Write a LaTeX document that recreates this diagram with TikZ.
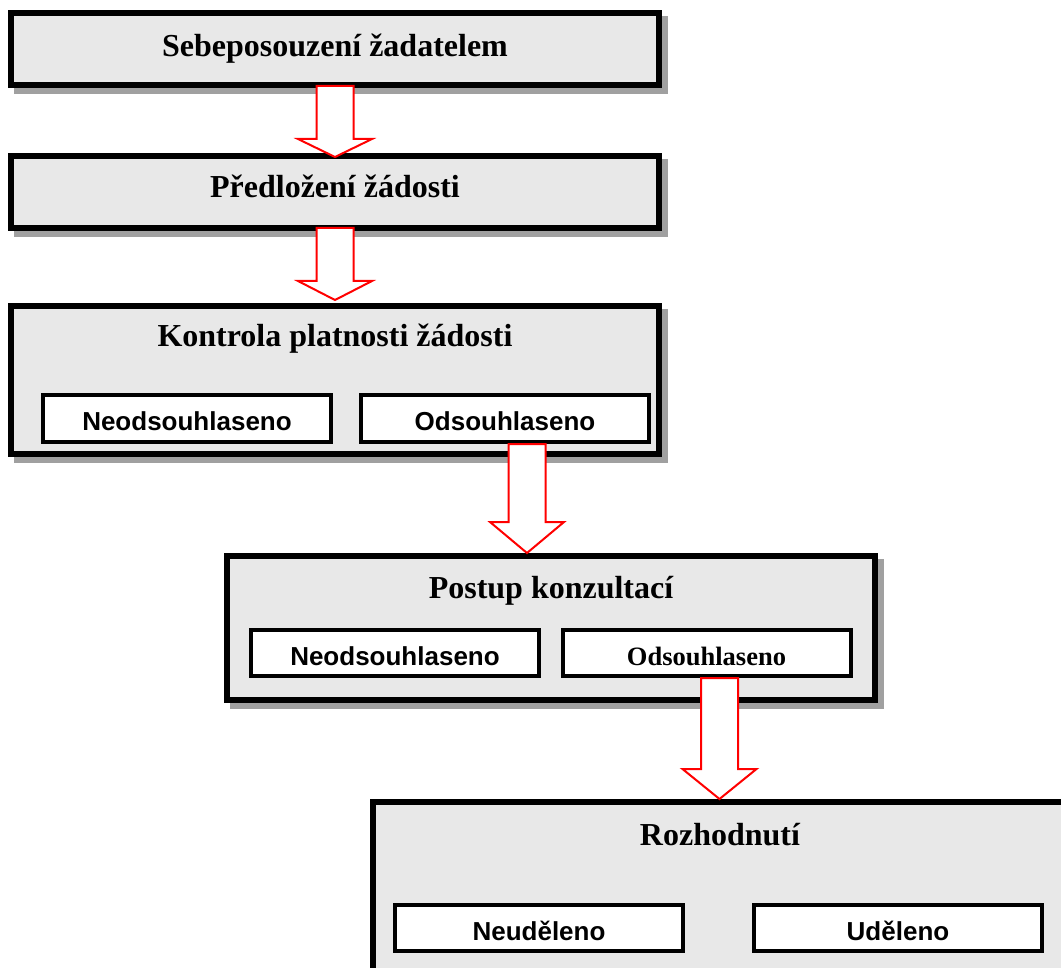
\documentclass[tikz,border=0pt]{standalone}
\usepackage{fontspec}
\setmainfont{Liberation Serif}
\newfontfamily\sansfam{Liberation Sans}
\usetikzlibrary{calc}

\definecolor{boxgray}{RGB}{232,232,232}
\definecolor{shadowgray}{RGB}{160,160,160}

\newcommand\titlefont{\fontsize{32}{38}\selectfont\bfseries}
\newcommand\sublabel{\sansfam\fontsize{26}{31}\selectfont\bfseries}
\newcommand\subserif{\fontsize{26.5}{31}\selectfont\bfseries}

\pgfdeclarelayer{bg}
\pgfsetlayers{bg,main}

% gray drop shadow behind a box node
\newcommand\boxshadow[1]{%
  \fill[shadowgray] ([shift={(6,6)}]#1.north west) rectangle ([shift={(6,6)}]#1.south east);}

% hollow block arrow: #1 start point, #2 tip point, #3 head length
\newcommand\blockarrow[3]{%
  \draw[arrowline] let \p1=(#1), \p2=(#2) in
    (\x1-18.5pt,\y1) -- (\x1+18.5pt,\y1) -- (\x1+18.5pt,\y2+#3) -- (\x1+37pt,\y2+#3)
    -- (\x1,\y2) -- (\x1-37pt,\y2+#3) -- (\x1-18.5pt,\y2+#3) -- cycle;}

\tikzset{
  mainbox/.style={draw=black, fill=boxgray, line width=6pt, minimum width=648pt,
    inner sep=0pt},
  subbox/.style={draw=black, fill=white, line width=4pt, minimum width=288pt,
    minimum height=46pt, inner sep=0pt, text height=24pt, text depth=0pt, font=\sublabel},
  titletext/.style={anchor=base, inner sep=0pt, font=\titlefont},
  arrowline/.style={draw=red, fill=white, line width=2pt, line join=miter},
}

\begin{document}
\begin{tikzpicture}[x=1pt, y=-1pt]
\useasboundingbox (0,0) rectangle (1061,968);
\clip (0,0) rectangle (1061,968);

% main stages
\node[mainbox, minimum height=72pt] (b1) at (335,49) {};
\node[mainbox, minimum height=72pt] (b2) at (335,192) {};
\node[mainbox, minimum height=148pt] (b3) at (335,380) {};
\node[mainbox, minimum height=144pt] (b4) at (551,628) {};
\node[mainbox, minimum width=694pt, minimum height=214pt] (b5) at (720,909) {};

\begin{pgfonlayer}{bg}
  \boxshadow{b1}\boxshadow{b2}\boxshadow{b3}\boxshadow{b4}\boxshadow{b5}
\end{pgfonlayer}

% stage titles
\node[titletext] (t1) at (335,57) {Sebeposouzení žadatelem};
\node[titletext] (t2) at (335,198) {Předložení žádosti};
\node[titletext] (t3) at (335,347) {Kontrola platnosti žádosti};
\node[titletext] (t4) at (551,598) {Postup konzultací};
\node[titletext] (t5) at (720,845) {Rozhodnutí};

% outcomes
\node[subbox, minimum height=47pt] (s31) at (187,418.5) {Neodsouhlaseno};
\node[subbox, minimum height=47pt] (s32) at (505,418.5) {Odsouhlaseno};
\node[subbox] (s41) at (395,653) {Neodsouhlaseno};
\node[subbox, font=\subserif] (s42) at (706.5,653) {Odsouhlaseno};
\node[subbox] (s51) at (539,928) {Neuděleno};
\node[subbox] (s52) at (898,928) {Uděleno};

% flow arrows
\blockarrow{$(b1.south)+(0,-2)$}{$(b2.north)+(0,4)$}{18pt}
\blockarrow{$(b2.south)+(0,-3)$}{$(b3.north)+(0,-3)$}{19pt}
\blockarrow{$(s32.south)+(22,0)$}{b4.north}{31pt}
\blockarrow{$(s42.south)+(13,0)$}{b5.north}{30pt}
\end{tikzpicture}
\end{document}
